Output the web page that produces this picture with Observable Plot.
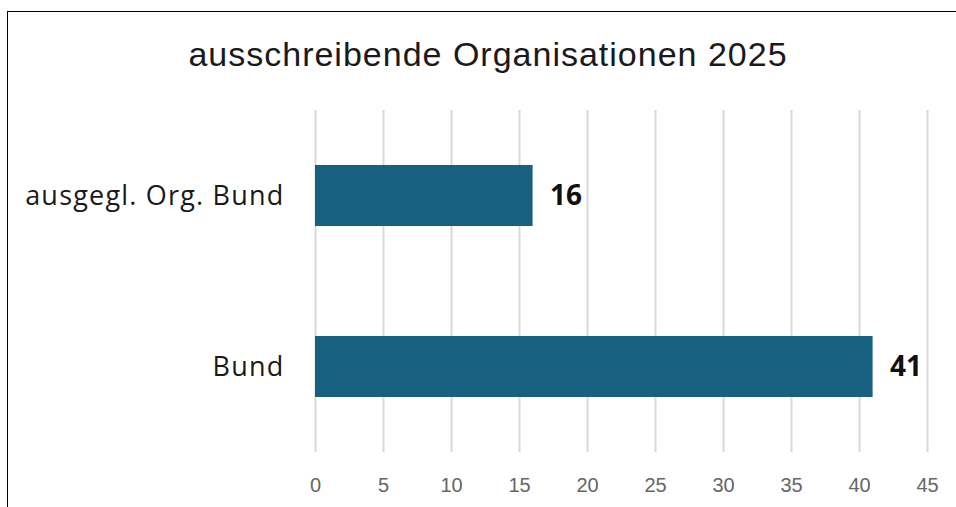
<!DOCTYPE html>
<html>
<head>
<meta charset="utf-8">
<script src="https://cdn.jsdelivr.net/npm/d3@7"></script>
<script src="https://cdn.jsdelivr.net/npm/@observablehq/plot@0.6"></script>
<style>
  html, body { margin: 0; padding: 0; background: #fff; overflow: hidden; }
  #wrap { position: relative; width: 956px; height: 507px; }
  #border { position: absolute; left: 7px; top: 11px; width: 2000px; height: 2000px; border: 1px solid #000; box-sizing: border-box; }
  #title { position: absolute; left: 0; top: 37px; width: 976px; text-align: center; font-family: "Liberation Sans", Arial, sans-serif; font-size: 34px; letter-spacing: 1px; color: #1a1a1a; line-height: 1; }
  #chart { position: absolute; left: 0; top: 0; }
  #chart g[aria-label="y-axis tick label"] text { letter-spacing: 1.2px; }
</style>
</head>
<body>
<div id="wrap">
  <div id="border"></div>
  <div id="title">ausschreibende Organisationen 2025</div>
  <div id="chart"></div>
</div>
<script>
const categories = ["ausgegl. Org. Bund", "Bund"];
const values = [16, 41];
const xTicks = [0, 5, 10, 15, 20, 25, 30, 35, 40, 45];

const data = categories.map((c, i) => ({category: c, value: values[i]}));

const chart = Plot.plot({
  width: 956,
  height: 507,
  marginLeft: 315,
  marginRight: 29,
  marginTop: 110,
  marginBottom: 55,
  style: {background: "transparent", overflow: "visible"},
  x: {domain: [0, 45], ticks: xTicks, label: null},
  y: {domain: categories, padding: 0, label: null},
  marks: [
    Plot.gridX(xTicks, {stroke: "#d9d9d9", strokeOpacity: 1, strokeWidth: 2}),
    Plot.barX(data, {x: "value", y: "category", fill: "#17607f", insetTop: 55, insetBottom: 55}),
    Plot.text(data, {x: "value", y: "category", text: d => String(d.value), dx: 17, textAnchor: "start",
      fontWeight: "bold", fontSize: 28, fill: "#111", fontFamily: "'Open Sans', sans-serif"}),
    Plot.axisX(xTicks, {tickSize: 0, tickPadding: 25, fontSize: 20, color: "#666",
      fontFamily: "'Liberation Sans', Arial, sans-serif", label: null}),
    Plot.axisY({tickSize: 0, tickPadding: 31, fontSize: 27, color: "#1a1a1a",
      fontFamily: "'Open Sans', sans-serif", label: null})
  ]
});
document.getElementById("chart").appendChild(chart);
</script>
</body>
</html>
